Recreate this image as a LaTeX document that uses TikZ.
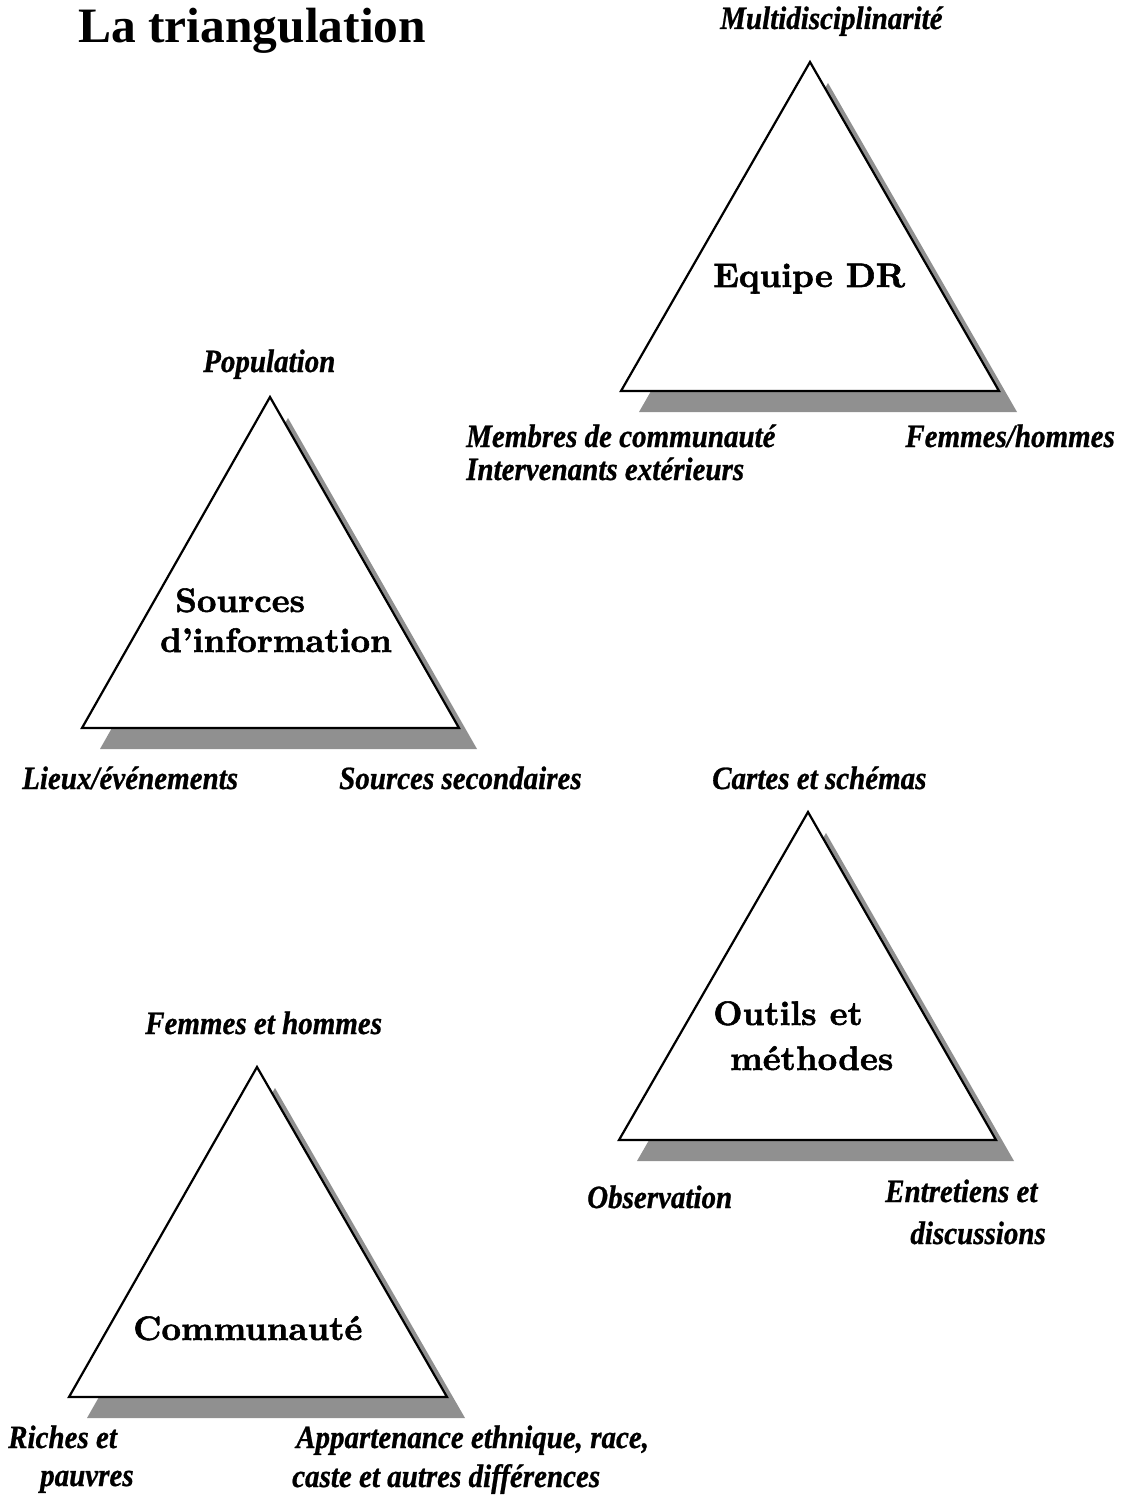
\documentclass[tikz,border=0pt]{standalone}
\usepackage{fontspec}
\newfontfamily\tnr{Liberation Serif}
\newfontfamily\tnrbi{Liberation Serif Bold Italic}[FakeBold=0.8]
\newfontfamily\lmbold{lmroman10-bold}[Extension=.otf, FakeBold=1.6]
\definecolor{shadowgray}{HTML}{909090}
\newcommand{\tallt}[1]{\scalebox{1}[1.12]{#1}}
\tikzset{
  lab/.style={inner sep=0pt, font=\tnrbi\fontsize{29}{33}\selectfont},
  ctr/.style={inner sep=0pt, font=\lmbold\fontsize{34}{41}\selectfont},
  ttl/.style={inner sep=0pt, font=\tnr\bfseries\fontsize{49.5}{56}\selectfont},
  tri/.style={draw=black, fill=white, line width=2.2pt, line join=miter},
  shade/.style={fill=shadowgray, draw=none}
}
% #1 name, apex x,y ; base left x ; base right x ; base y
\newcommand{\mytriangle}[6]{%
  \coordinate (#1top) at (#2,#3);
  \coordinate (#1bl) at (#4,#6);
  \coordinate (#1br) at (#5,#6);
  \fill[shade] ([shift={(18,21)}]#1top) -- ([shift={(18,21)}]#1bl) -- ([shift={(18,21)}]#1br) -- cycle;
  \draw[tri] (#1top) -- (#1bl) -- (#1br) -- cycle;
}
\begin{document}
\begin{tikzpicture}[x=1pt,y=-1pt]
\useasboundingbox (0,0) rectangle (1132,1495);
\fill[white] (0,0) rectangle (1132,1495);

% Title
\node[ttl, anchor=base west] (title) at (78,43) {La triangulation};

% Triangles
\mytriangle{eq}{810}{62}{621}{999}{391}
\mytriangle{so}{270}{397}{82}{459}{728}
\mytriangle{ou}{808}{812}{619}{996}{1140}
\mytriangle{co}{257}{1067}{69}{447}{1397}

% Centre labels
\node[ctr, anchor=base west] (eqlab) at (713,287) {Equipe DR};
\node[ctr, anchor=base west] (solab1) at (175,612) {Sources};
\node[ctr, anchor=base west] (solab2) at (160,652) {d’information};
\node[ctr, anchor=base west] (oulab1) at (713,1025) {Outils et};
\node[ctr, anchor=base west] (oulab2) at (730,1070) {méthodes};
\node[ctr, anchor=base west] (colab) at (133,1340) {Communauté};

% Corner labels
\node[lab, anchor=base west] (l1) at (720,29) {\tallt{Multidisciplinarité}};
\node[lab, anchor=base west] (l2) at (203,372) {\tallt{Population}};
\node[lab, anchor=base west] (l3) at (466,447) {\tallt{Membres de communauté}};
\node[lab, anchor=base west] (l4) at (466,480) {\tallt{Intervenants extérieurs}};
\node[lab, anchor=base east] (l5) at (1115,447) {\tallt{Femmes/hommes}};
\node[lab, anchor=base west] (l6) at (22,789) {\tallt{Lieux/événements}};
\node[lab, anchor=base west] (l7) at (339,789) {\tallt{Sources secondaires}};
\node[lab, anchor=base west] (l8) at (712,789) {\tallt{Cartes et schémas}};
\node[lab, anchor=base west] (l9) at (145,1034) {\tallt{Femmes et hommes}};
\node[lab, anchor=base west] (l10) at (587,1208) {\tallt{Observation}};
\node[lab, anchor=base west] (l11) at (885,1202) {\tallt{Entretiens et}};
\node[lab, anchor=base east] (l12) at (1046,1244) {\tallt{discussions}};
\node[lab, anchor=base west] (l13) at (8,1448) {\tallt{Riches et}};
\node[lab, anchor=base west] (l14) at (40,1486) {\tallt{pauvres}};
\node[lab, anchor=base west] (l15) at (296,1448) {\tallt{Appartenance ethnique, race,}};
\node[lab, anchor=base west] (l16) at (292,1487) {\tallt{caste et autres différences}};
\end{tikzpicture}
\end{document}
